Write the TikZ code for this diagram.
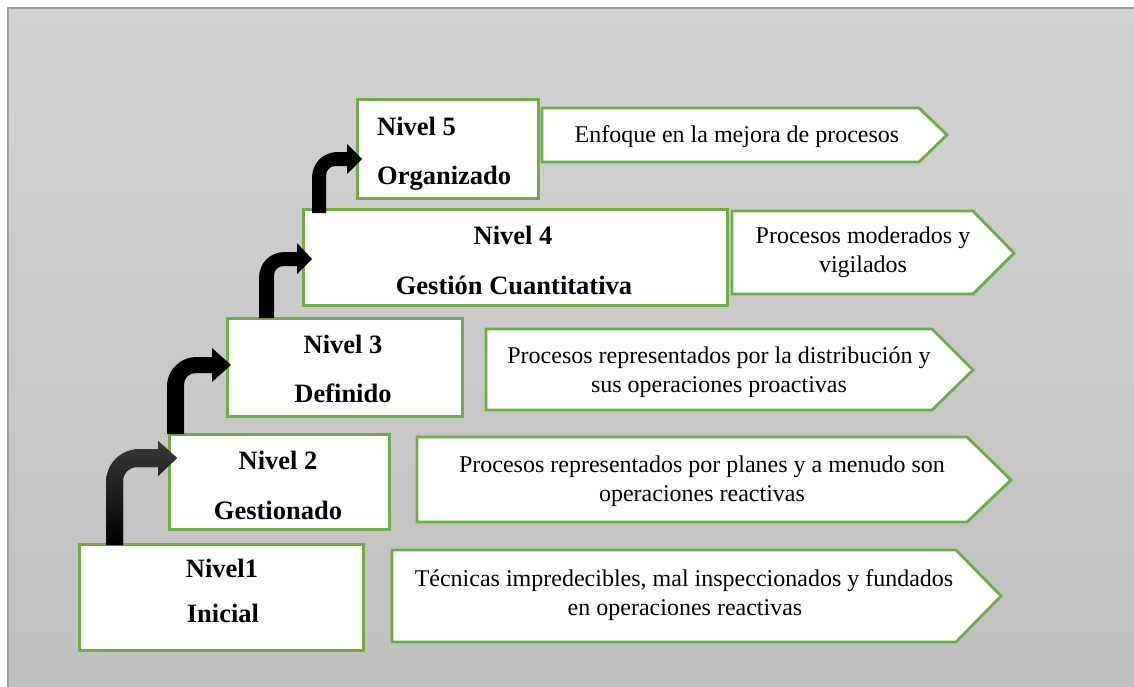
\documentclass[tikz,border=0pt]{standalone}
\usepackage{fontspec}
\setmainfont{Liberation Serif}
\definecolor{bgtop}{HTML}{D2D2D2}
\definecolor{bgbot}{HTML}{C1C1C1}
\definecolor{bordergray}{HTML}{A0A0A0}
\definecolor{lvlgreen}{HTML}{70AD47}
\definecolor{arrowtop}{HTML}{3A3A3A}
\begin{document}
\begin{tikzpicture}[x=1pt,y=-1pt,
  lvl/.style={draw=lvlgreen, line width=2.8pt, fill=white, rectangle, inner sep=0pt, anchor=north west},
  callout/.style={draw=lvlgreen, line width=2.8pt, fill=white, line join=miter},
  lvltext/.style={font=\fontsize{26.5}{30}\selectfont\bfseries, inner sep=0pt, anchor=base},
  calltext/.style={font=\fontsize{24}{29}\selectfont, inner sep=0pt, anchor=base},
  bent/.style={fill=black, draw=none}
]
\useasboundingbox (0,0) rectangle (1134,686);
% background
\fill[top color=bgtop, bottom color=bgbot] (8,8) rectangle (1140,692);
\draw[bordergray, line width=1.5pt] (8,692) -- (8,8) -- (1140,8);

% level boxes
\node[lvl, minimum width=284, minimum height=106] (b1) at (78,543) {};
\node[lvl, minimum width=220, minimum height=95] (b2) at (168,433) {};
\node[lvl, minimum width=235, minimum height=98] (b3) at (226,317) {};
\node[lvl, minimum width=424, minimum height=96] (b4) at (302,208) {};
\node[lvl, minimum width=181, minimum height=99] (b5) at (356,98) {};

% callouts
\draw[callout] (542,108) -- (919,108) -- (947,135) -- (919,162) -- (542,162) -- cycle;
\draw[callout] (732,211) -- (973,211) -- (1014,253) -- (973,294) -- (732,294) -- cycle;
\draw[callout] (486,329) -- (932,329) -- (973,370) -- (932,410) -- (486,410) -- cycle;
\draw[callout] (417,437) -- (967,437) -- (1011,480) -- (967,522) -- (417,522) -- cycle;
\draw[callout] (392,550) -- (956,550) -- (1001,596) -- (956,642) -- (392,642) -- cycle;

% bent arrows
\fill[top color=arrowtop, bottom color=black]
  (106,545) -- (106,484) .. controls (106,463) and (121,449) .. (141,449)
  -- (158,449) -- (158,441) -- (177,458) -- (158,476) -- (158,467)
  -- (137,467) .. controls (129,467) and (123,473) .. (123,481) -- (123,545) -- cycle;
\fill[bent]
  (167,434) -- (167,387) .. controls (167,370) and (180,357) .. (197,357)
  -- (212,357) -- (212,348) -- (231,365) -- (212,382) -- (212,373)
  -- (196,373) .. controls (189,373) and (184,378) .. (184,385) -- (184,434) -- cycle;
\fill[bent]
  (259,318) -- (259,278) .. controls (259,263) and (270,252) .. (285,252)
  -- (297,252) -- (297,243) -- (312,259) -- (297,274) -- (297,266)
  -- (284,266) .. controls (278,266) and (274,270) .. (274,276) -- (274,318) -- cycle;
\fill[bent]
  (312,213) -- (312,178) .. controls (312,163) and (323,152) .. (338,152)
  -- (347,152) -- (347,144) -- (362,159) -- (347,174) -- (347,166)
  -- (336,166) .. controls (330,166) and (326,170) .. (326,176) -- (326,213) -- cycle;

% level texts
\node[lvltext] (t1a) at (222,577) {Nivel1};
\node[lvltext] (t1b) at (223,622) {Inicial};
\node[lvltext] (t2a) at (278,469) {Nivel 2};
\node[lvltext] (t2b) at (278,519) {Gestionado};
\node[lvltext] (t3a) at (343,353) {Nivel 3};
\node[lvltext] (t3b) at (343,402) {Definido};
\node[lvltext] (t4a) at (513,244) {Nivel 4};
\node[lvltext] (t4b) at (514,294) {Gestión Cuantitativa};
\node[lvltext, anchor=base west] (t5a) at (377,135) {Nivel 5};
\node[lvltext, anchor=base west] (t5b) at (377,184) {Organizado};

% callout texts
\node[calltext] (c5a) at (737,142) {Enfoque en la mejora de procesos};
\node[calltext] (c4a) at (863,243) {Procesos moderados y};
\node[calltext] (c4b) at (863,272) {vigilados};
\node[calltext] (c3a) at (719,363) {Procesos representados por la distribución y};
\node[calltext] (c3b) at (719,392) {sus operaciones proactivas};
\node[calltext] (c2a) at (702,472) {Procesos representados por planes y a menudo son};
\node[calltext] (c2b) at (702,501) {operaciones reactivas};
\node[calltext] (c1a) at (684,586) {Técnicas impredecibles, mal inspeccionados y fundados};
\node[calltext] (c1b) at (685,615) {en operaciones reactivas};
\end{tikzpicture}
\end{document}
